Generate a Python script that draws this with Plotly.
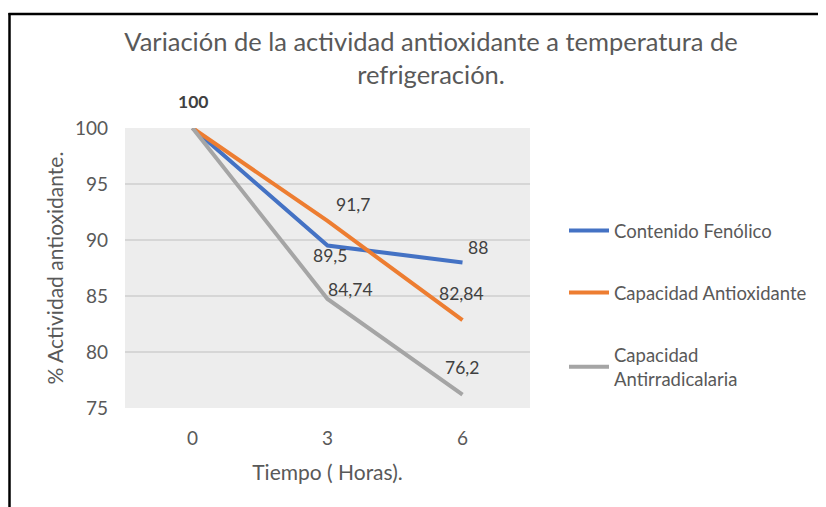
import plotly.graph_objects as go

# datos
tiempo = ["0", "3", "6"]
fenolico = [100, 89.5, 88]
antioxidante = [100, 91.7, 82.84]
antirradical = [100, 84.74, 76.2]
nombres = ["Contenido Fenólico", "Capacidad Antioxidante", "Capacidad<br>Antirradicalaria"]
colores = ["#4472C4", "#ED7D31", "#A5A5A5"]

# la página deja 8 px de margen en el body, así que la figura se corre
OFF = 8
W, H = 826 - OFF, 507 - OFF
PL, PR, PT, PB = 125, 530, 128, 408  # área de trazado en px de la referencia
fuente = "Lato"
gris_txt = "#595959"


def fmt(v):
    return f"{v:g}".replace(".", ",")


fig = go.Figure()
for i, (serie, nombre, color) in enumerate(zip([fenolico, antioxidante, antirradical], nombres, colores)):
    fig.add_trace(go.Scatter(
        x=tiempo, y=serie, name=nombre, mode="lines",
        line=dict(color=color, width=4),
        legendgroup=str(i),
    ))

# etiquetas de datos (índice de categoría, serie, desplazamiento en px)
etiquetas = [
    (0, fenolico, 0, 27, True),
    (1, antioxidante, 25, 16, False),
    (1, fenolico, 2, -10, False),
    (2, fenolico, 15, 15, False),
    (1, antirradical, 23, 9, False),
    (2, antioxidante, -1, 27, False),
    (2, antirradical, -1, 27, False),
]
for xi, serie, dx, dy, negrita in etiquetas:
    v = serie[xi]
    fig.add_annotation(
        x=xi, y=v, xref="x", yref="y",
        text=f"<b>{fmt(v)}</b>" if negrita else fmt(v),
        showarrow=False, xshift=dx, yshift=dy,
        font=dict(family=fuente, size=17.5, color="#404040"),
    )


def px_x(p):
    return (p - PL) / (PR - PL)


def px_y(p):
    return (PB - p) / (PB - PT)


# marco recortado (arriba e izquierda)
fig.add_shape(type="line", xref="paper", yref="paper",
              x0=px_x(8.5), x1=px_x(840), y0=px_y(14), y1=px_y(14),
              line=dict(color="black", width=2.5))
fig.add_shape(type="line", xref="paper", yref="paper",
              x0=px_x(9.5), x1=px_x(9.5), y0=px_y(13), y1=px_y(520),
              line=dict(color="black", width=2.5))

fig.update_layout(
    width=W, height=H,
    margin=dict(l=PL - OFF, r=826 - PR, t=PT - OFF, b=507 - PB),
    paper_bgcolor="white",
    plot_bgcolor="#EDEDED",
    font=dict(family=fuente, color=gris_txt),
    title=dict(
        text="Variación de la actividad antioxidante a temperatura de<br>refrigeración.",
        x=(431 - OFF) / W, xanchor="center", y=1 - 43 / H, yanchor="middle",
        font=dict(size=25.5, color=gris_txt),
    ),
    xaxis=dict(
        type="category", range=[-0.5, 2.5], showgrid=False, zeroline=False,
        showline=False, ticks="", ticklabelstandoff=17,
        tickfont=dict(size=19, color=gris_txt),
        title=dict(text="Tiempo ( Horas).", font=dict(size=21, color=gris_txt), standoff=17),
    ),
    yaxis=dict(
        range=[75, 100], dtick=5, gridcolor="#D6D6D6", gridwidth=1.5,
        zeroline=False, showline=False, ticks="", ticklabelstandoff=16,
        tickfont=dict(size=19, color=gris_txt),
        title=dict(text="% Actividad antioxidante.", font=dict(size=21, color=gris_txt), standoff=5),
    ),
    legend=dict(
        x=px_x(564), y=px_y(212), xanchor="left", yanchor="top",
        traceorder="grouped", tracegroupgap=35,
        font=dict(size=18.5, color=gris_txt), bgcolor="rgba(0,0,0,0)",
        itemwidth=40,
    ),
    showlegend=True,
)

fig.write_html("out.html")
